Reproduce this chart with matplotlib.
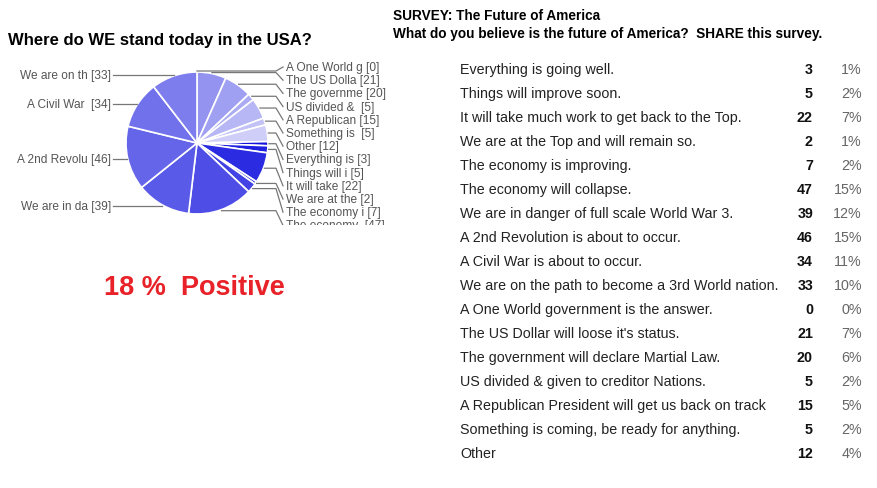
import numpy as np
import matplotlib
matplotlib.use("Agg")
import matplotlib.pyplot as plt

plt.rcParams['font.family'] = ['Liberation Sans', 'DejaVu Sans']

# survey answers in question order
answers = [
    "Everything is going well.",
    "Things will improve soon.",
    "It will take much work to get back to the Top.",
    "We are at the Top and will remain so.",
    "The economy is improving.",
    "The economy will collapse.",
    "We are in danger of full scale World War 3.",
    "A 2nd Revolution is about to occur.",
    "A Civil War is about to occur.",
    "We are on the path to become a 3rd World nation.",
    "A One World government is the answer.",
    "The US Dollar will loose it's status.",
    "The government will declare Martial Law.",
    "US divided & given to creditor Nations.",
    "A Republican President will get us back on track",
    "Something is coming, be ready for anything.",
    "Other",
]
short_labels = [
    "Everything is", "Things will i", "It will take", "We are at the",
    "The economy i", "The economy ", "We are in da", "A 2nd Revolu",
    "A Civil War ", "We are on th", "A One World g", "The US Dolla",
    "The governme", "US divided & ", "A Republican", "Something is ",
    "Other",
]
counts = [3, 5, 22, 2, 7, 47, 39, 46, 34, 33, 0, 21, 20, 5, 15, 5, 12]
pie_start = 10  # pie begins at "A One World government" at 12 o'clock

W, H = 878, 489
fig = plt.figure(figsize=(W / 100, H / 100), dpi=100)

# full-figure axes for text, pixel coordinates (y down)
tx = fig.add_axes([0, 0, 1, 1])
tx.set_xlim(0, W)
tx.set_ylim(H, 0)
tx.axis('off')

# pie axes, clipped region (px x 0..400, y 58..226)
top, bot, right = 58, 226, 400
pa = fig.add_axes([0, 1 - bot / H, right / W, (bot - top) / H])

n = len(counts)
dark = np.array([20, 20, 222]) / 255
light = np.array([206, 206, 248]) / 255
colors = [tuple(dark + (light - dark) * i / (n - 1)) for i in range(n)]

order = list(range(pie_start, n)) + list(range(0, pie_start))
vals = [counts[i] for i in order]
cols = [colors[i] for i in order]

cx, cy, r = 197, H - 144, 71
wedges, _ = pa.pie(vals, colors=cols, startangle=90, counterclock=False,
                   center=(cx, cy), radius=r, frame=True,
                   wedgeprops=dict(edgecolor='white', linewidth=1.2))
pa.set_xlim(0, right)
pa.set_ylim(H - bot, H - top)
pa.set_aspect('auto')
pa.axis('off')

line_kw = dict(color='#777777', lw=0.9, clip_on=True)
lab_kw = dict(fontsize=8.6, color='#555555', va='center', clip_on=True)
right_i = 0
for w, idx in zip(wedges, order):
    mid = np.deg2rad((w.theta1 + w.theta2) / 2)
    ex, ey = cx + (r + 1) * np.cos(mid), cy + (r + 1) * np.sin(mid)
    text = f"{short_labels[idx]} [{counts[idx]}]"
    if ex >= cx - 5:
        ly = H - (68 + right_i * 13.2)
        right_i += 1
        pa.plot([ex, 276, 283], [ey, ey, ly], **line_kw)
        pa.text(286, ly, text, ha='left', **lab_kw)
    else:
        ly = ey
        pa.plot([113, ex - 3, ex], [ly, ly, ey], **line_kw)
        pa.text(111, ly, text, ha='right', **lab_kw)

# titles
tx.text(8, 40, "Where do WE stand today in the USA?", fontsize=12,
        fontweight='bold', va='center', ha='left')
tx.text(393, 16, "SURVEY: The Future of America", fontsize=9.8,
        fontweight='bold', va='center', ha='left')
tx.text(393, 34, "What do you believe is the future of America?  SHARE this survey.",
        fontsize=9.8, fontweight='bold', va='center', ha='left')
tx.text(194, 288, "18 %  Positive", fontsize=19.5, fontweight='bold',
        color='#e82228', va='center', ha='center')

# table
total = sum(counts)
for i, (a, c) in enumerate(zip(answers, counts)):
    y = 70 + i * 24
    tx.text(460, y, a, fontsize=10.3, color='#222222', va='center', ha='left')
    tx.text(813, y, str(c), fontsize=10.3, fontweight='bold', color='#111111',
            va='center', ha='right')
    tx.text(862, y, f"{round(100 * c / total)}%", fontsize=10.3,
            color='#666666', va='center', ha='right')

fig.savefig("out.png", dpi=100)
